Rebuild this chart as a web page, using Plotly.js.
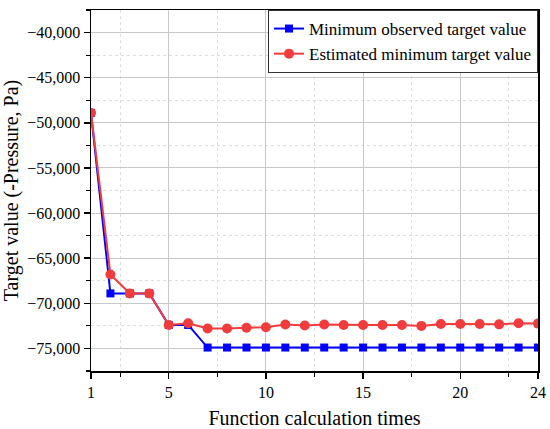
<!DOCTYPE html>
<html><head><meta charset="utf-8">
<script src="https://cdn.plot.ly/plotly-3.0.1.min.js"></script>
<style>html,body{margin:0;padding:0;background:#fff;}#chart{width:550px;height:429px;}
#chart text{font-family:'Liberation Serif','Times New Roman',serif !important;}</style>
</head><body><div id="chart"></div>
<script>
const xs = [1,2,3,4,5,6,7,8,9,10,11,12,13,14,15,16,17,18,19,20,21,22,23,24];
const observedMin = [-48900,-68900,-68900,-68900,-72400,-72400,-74900,-74900,-74900,-74900,-74900,-74900,-74900,-74900,-74900,-74900,-74900,-74900,-74900,-74900,-74900,-74900,-74900,-74900];
const estimatedMin = [-48900,-66800,-68900,-68900,-72400,-72200,-72800,-72800,-72700,-72650,-72350,-72450,-72350,-72400,-72400,-72400,-72400,-72500,-72300,-72300,-72300,-72330,-72200,-72250];
const xTickVals = [1,5,10,15,20,24];
const seriesNames = ['Minimum observed target value','Estimated minimum target value'];

const font = 'Liberation Serif';
const traces = [
  {x: xs, y: observedMin, name: seriesNames[0], mode: 'lines+markers', cliponaxis: true,
   line: {color: '#0000ff', width: 2}, marker: {symbol: 'square', size: 8, color: '#0000ff'}},
  {x: xs, y: estimatedMin, name: seriesNames[1], mode: 'lines+markers', cliponaxis: true,
   line: {color: '#f03c3c', width: 2}, marker: {symbol: 'circle', size: 10, color: '#f03c3c'}}
];
const layout = {
  width: 550, height: 429,
  margin: {l: 91, r: 12, t: 10, b: 58},
  paper_bgcolor: '#fff', plot_bgcolor: '#fff',
  font: {family: font, color: '#000', size: 16},
  showlegend: true,
  legend: {x: 1, xanchor: 'right', y: 1, yanchor: 'top', bgcolor: '#fff',
    bordercolor: '#333', borderwidth: 1, font: {family: font, size: 17, color: '#000'},
    tracegroupgap: 0},
  xaxis: {
    range: [1, 24], tickmode: 'array', tickvals: xTickVals, ticktext: xTickVals.map(String),
    showline: true, linecolor: '#000', linewidth: 1.5, mirror: true,
    ticks: 'outside', ticklen: 6, tickwidth: 1.5, tickcolor: '#000',
    showgrid: true, gridcolor: '#c8c8c8', gridwidth: 1, zeroline: false,
    minor: {tickmode: 'linear', tick0: 2.5, dtick: 5, ticks: 'outside', ticklen: 4, tickwidth: 1.2, tickcolor: '#000',
      showgrid: true, gridcolor: '#dedede', griddash: 'dot', gridwidth: 1},
    title: {text: 'Function calculation times', font: {family: font, size: 20, color: '#000'}, standoff: 11},
    tickfont: {family: font, size: 16, color: '#000'}
  },
  yaxis: {
    range: [-77500, -37500], tickmode: 'linear', tick0: -40000, dtick: 5000, tickformat: ',d',
    showline: true, linecolor: '#000', linewidth: 1.5, mirror: true,
    ticks: 'outside', ticklen: 6, tickwidth: 1.5, tickcolor: '#000',
    showgrid: true, gridcolor: '#c8c8c8', gridwidth: 1, zeroline: false,
    minor: {tickmode: 'linear', tick0: -42500, dtick: 5000, ticks: 'outside', ticklen: 4, tickwidth: 1.2, tickcolor: '#000',
      showgrid: true, gridcolor: '#dedede', griddash: 'dot', gridwidth: 1},
    title: {text: 'Target value (-Pressure, Pa)', font: {family: font, size: 20, color: '#000'}, standoff: 8},
    tickfont: {family: font, size: 16, color: '#000'}
  }
};
Plotly.newPlot('chart', traces, layout, {displayModeBar: false, staticPlot: true});
</script></body></html>
